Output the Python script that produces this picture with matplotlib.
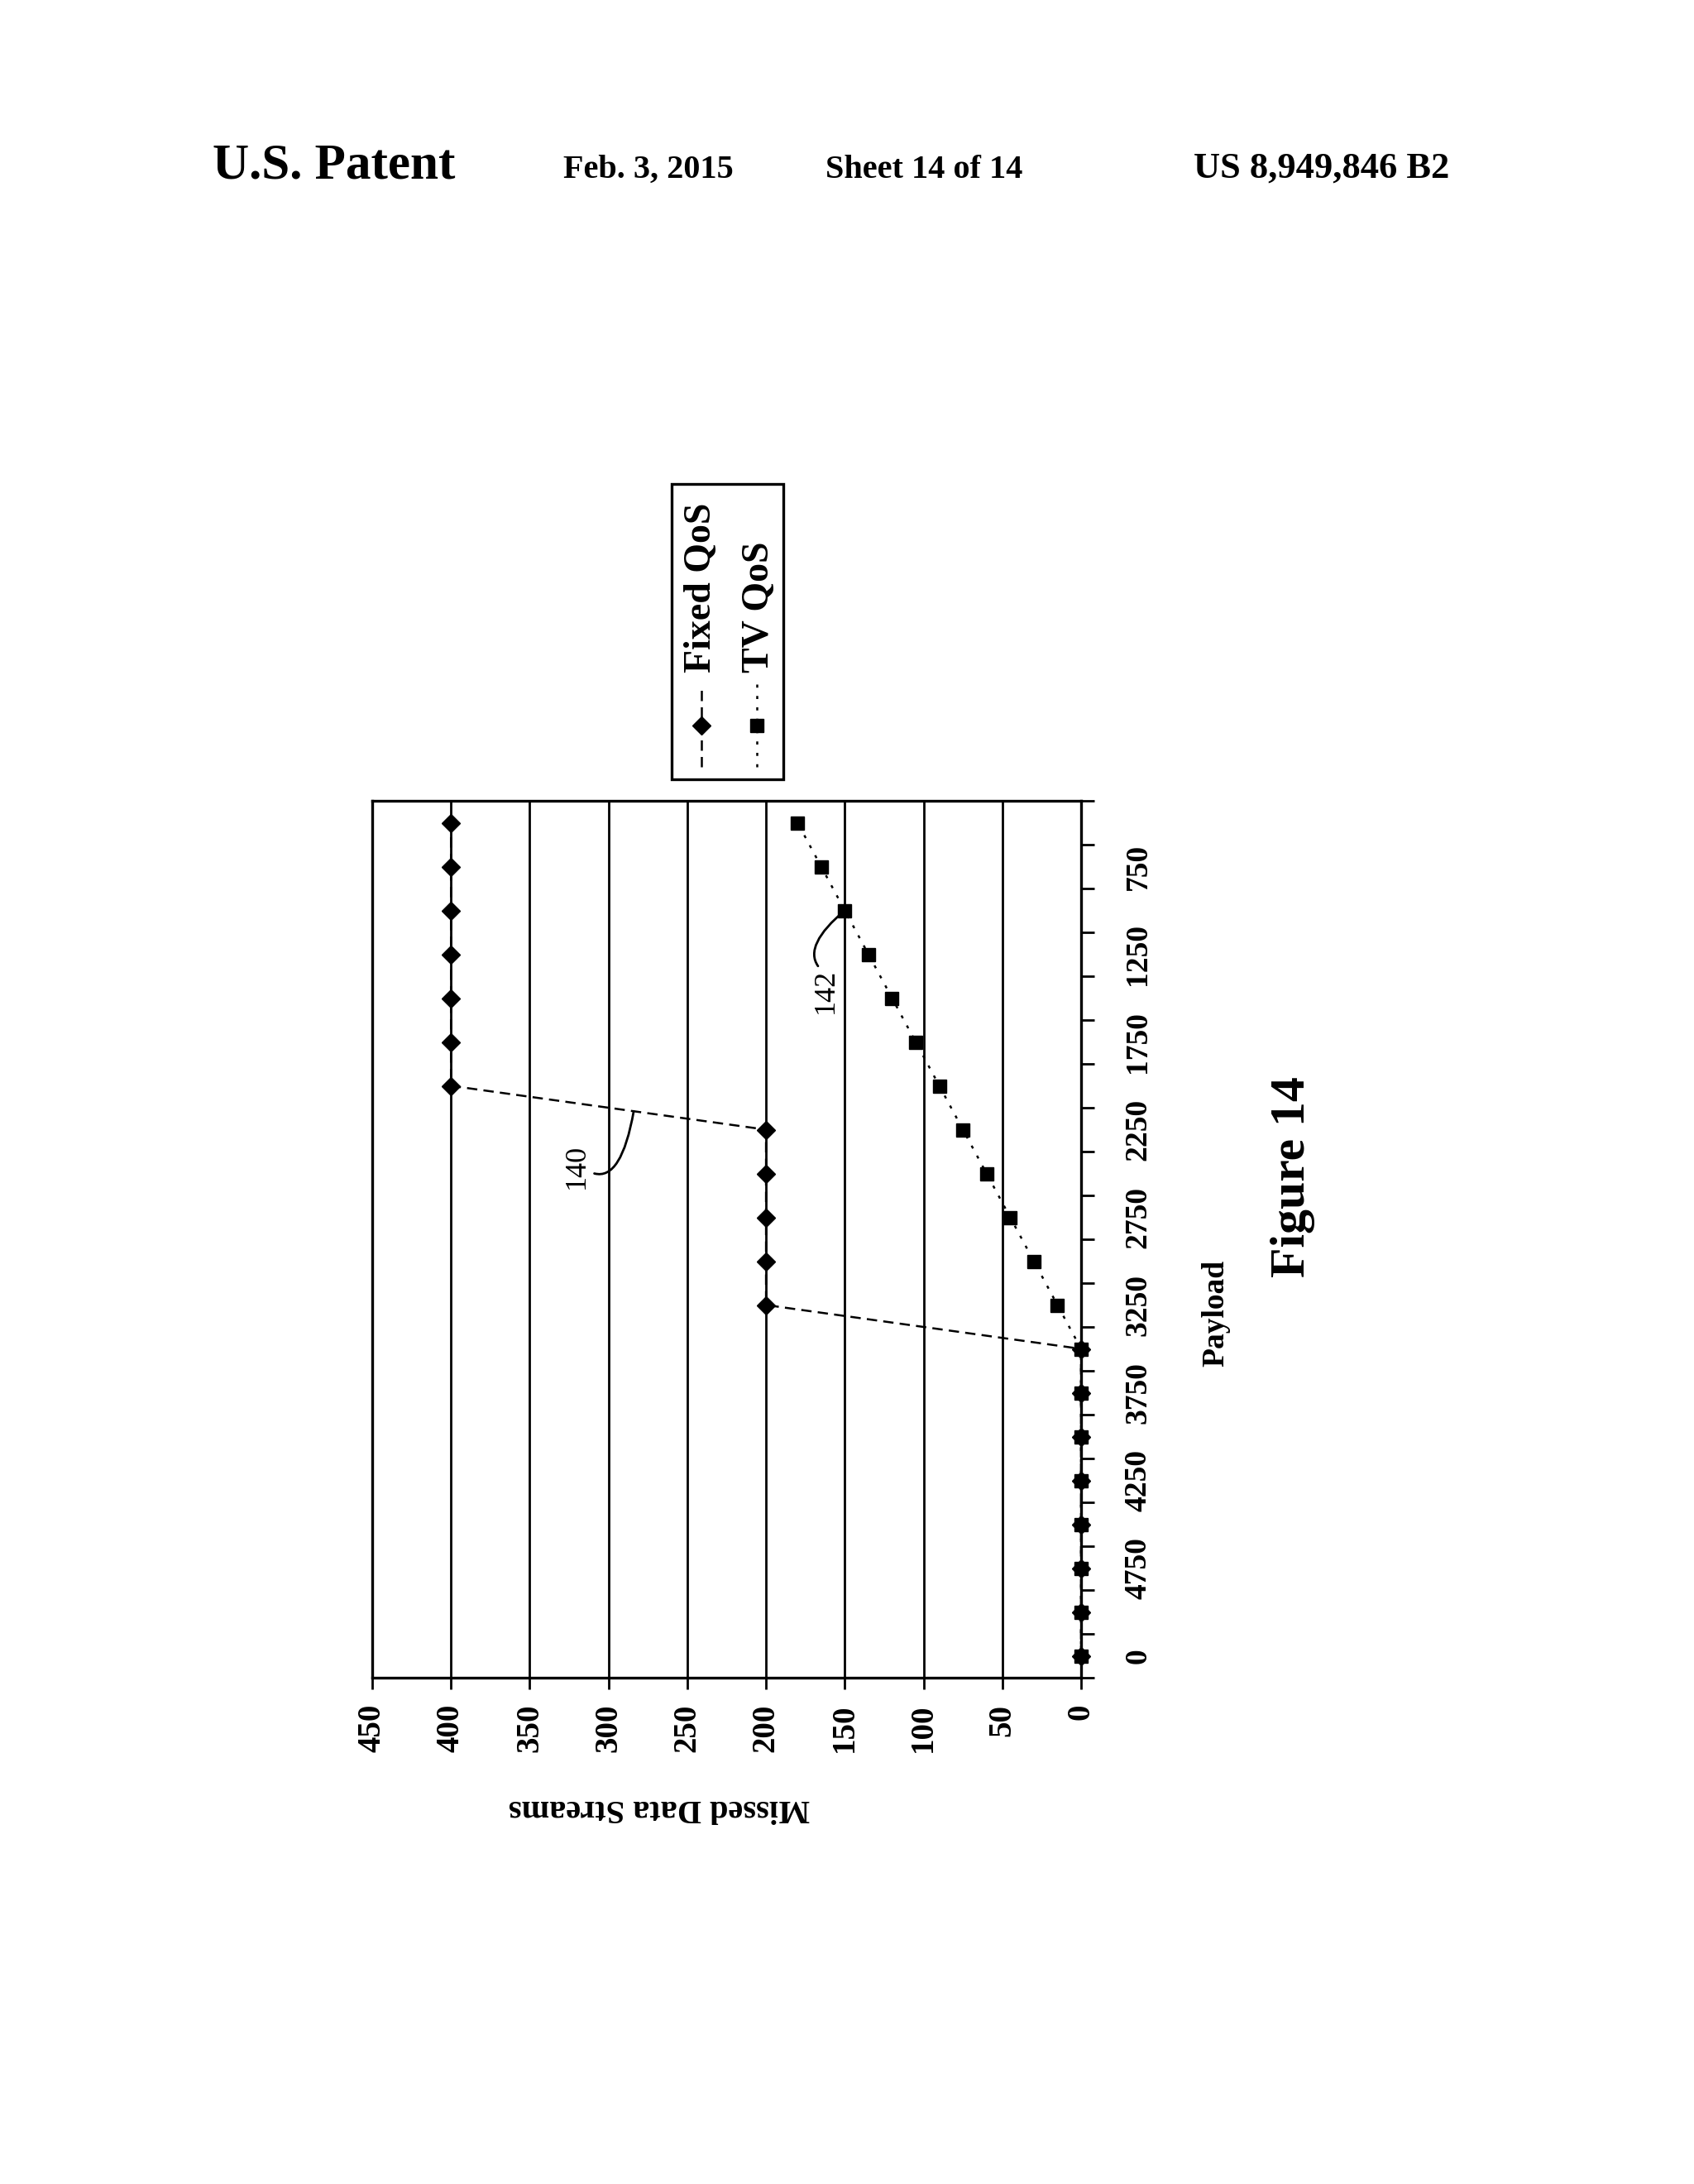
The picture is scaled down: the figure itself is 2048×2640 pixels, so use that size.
import matplotlib
matplotlib.use("Agg")
import matplotlib.pyplot as plt
from matplotlib.lines import Line2D
from matplotlib.patches import Rectangle
import numpy as np

plt.rcParams['font.family'] = ['Liberation Serif', 'DejaVu Serif']

# payload categories (every other one is labelled on the axis)
payload_labels = ['0', '5000', '4750', '4500', '4250', '4000', '3750', '3500', '3250', '3000',
                  '2750', '2500', '2250', '2000', '1750', '1500', '1250', '1000', '750', '500']
fixed_qos = [0, 0, 0, 0, 0, 0, 0, 0, 200, 200, 200, 200, 200, 400, 400, 400, 400, 400, 400, 400]
tv_qos = [0, 0, 0, 0, 0, 0, 0, 0, 15, 30, 45, 60, 75, 90, 105, 120, 135, 150, 165, 180]
value_ticks = [0, 50, 100, 150, 200, 250, 300, 350, 400, 450]

header = ['U.S. Patent', 'Feb. 3, 2015', 'Sheet 14 of 14', 'US 8,949,846 B2']

W, H = 2048, 2640
fig = plt.figure(figsize=(W / 100, H / 100), dpi=100)
fig.patch.set_facecolor('white')


def fx(px):
    return px / W


def fy(py):
    return 1 - py / H


# page header
fig.text(fx(404), fy(215), header[0], ha='center', va='baseline', fontsize=44, fontweight='bold')
fig.text(fx(784), fy(215), header[1], ha='center', va='baseline', fontsize=29, fontweight='bold')
fig.text(fx(1117), fy(215), header[2], ha='center', va='baseline', fontsize=29, fontweight='bold')
fig.text(fx(1598), fy(215), header[3], ha='center', va='baseline', fontsize=32, fontweight='bold')

# the chart is drawn turned on its side: values run right-to-left, payload bottom-to-top
ax = fig.add_axes([fx(450), fy(2028), fx(1307) - fx(450), (2028 - 968) / H])
idx = np.arange(len(payload_labels))

ax.plot(fixed_qos, idx, color='black', lw=1.8, ls=(0, (5, 3)), marker='D', ms=11,
        zorder=3, clip_on=False)
ax.plot(tv_qos, idx, color='black', lw=1.8, ls=(0, (1.5, 4)), marker='s', ms=12,
        zorder=4, clip_on=False)

ax.set_xlim(450, 0)
ax.set_ylim(-0.5, len(payload_labels) - 0.5)

ax.set_xticks(value_ticks)
ax.set_xticklabels([str(v) for v in value_ticks], rotation=90, fontsize=28, fontweight='bold')
ax.tick_params(axis='x', direction='out', length=10, width=2, pad=13)
ax.grid(axis='x', color='black', lw=2)
ax.set_axisbelow(True)

ax.yaxis.tick_right()
ax.set_yticks(np.arange(-0.5, len(payload_labels), 1))
ax.set_yticklabels([])
ax.set_yticks(idx[::2], minor=True)
ax.set_yticklabels(payload_labels[::2], minor=True, rotation=90, fontsize=27,
                   fontweight='bold', va='center')
ax.tick_params(axis='y', which='major', direction='out', length=11.5, width=2)
ax.tick_params(axis='y', which='minor', length=0, pad=37)

for s in ax.spines.values():
    s.set_linewidth(2.4)

# reference numerals with curved leaders
t = 0.42
end140 = (fixed_qos[12] + t * (fixed_qos[13] - fixed_qos[12]), 12 + t)
ax.text(320, 11.17, '140', rotation=90, fontsize=26, ha='center', va='center')
ax.annotate('', xy=end140, xytext=(309, 11.0),
            arrowprops=dict(arrowstyle='-', lw=2, shrinkA=0, shrinkB=0,
                            connectionstyle='angle3,angleA=-15,angleB=80'))

ax.text(162, 15.16, '142', rotation=90, fontsize=26, ha='center', va='center')
ax.annotate('', xy=(tv_qos[17], 17), xytext=(167, 15.73),
            arrowprops=dict(arrowstyle='-', lw=2, shrinkA=0, shrinkB=0,
                            connectionstyle='angle3,angleA=125,angleB=40'))

# axis titles and figure caption
fig.text(fx(797), fy(2185), 'Missed Data Streams', rotation=180, ha='center', va='center',
         fontsize=29, fontweight='bold')
fig.text(fx(1470), fy(1587), 'Payload', rotation=90, ha='center', va='center',
         fontsize=27, fontweight='bold')
fig.text(fx(1563), fy(1423), 'Figure 14', rotation=90, ha='center', va='center',
         fontsize=43, fontweight='bold')

# legend, built by hand since it is rotated
fig.add_artist(Rectangle((fx(812), fy(942)), (947 - 812) / W, (942 - 585) / H,
                         transform=fig.transFigure, fill=False, lw=2.4, ec='black'))
fig.add_artist(Line2D([fx(848), fx(848)], [fy(927), fy(827)], transform=fig.transFigure,
                      ls=(0, (5, 3)), lw=1.8, color='black'))
fig.add_artist(Line2D([fx(848)], [fy(877)], transform=fig.transFigure,
                      marker='D', ms=11, color='black', ls='none'))
fig.add_artist(Line2D([fx(915), fx(915)], [fy(927), fy(827)], transform=fig.transFigure,
                      ls=(0, (1.5, 4)), lw=1.8, color='black'))
fig.add_artist(Line2D([fx(915)], [fy(877)], transform=fig.transFigure,
                      marker='s', ms=12, color='black', ls='none'))
fig.text(fx(848), fy(813), 'Fixed QoS', rotation=90, ha='center', va='bottom',
         fontsize=33, fontweight='bold')
fig.text(fx(918), fy(813), 'TV QoS', rotation=90, ha='center', va='bottom',
         fontsize=33, fontweight='bold')

fig.savefig('out.png', dpi=100, facecolor='white')
